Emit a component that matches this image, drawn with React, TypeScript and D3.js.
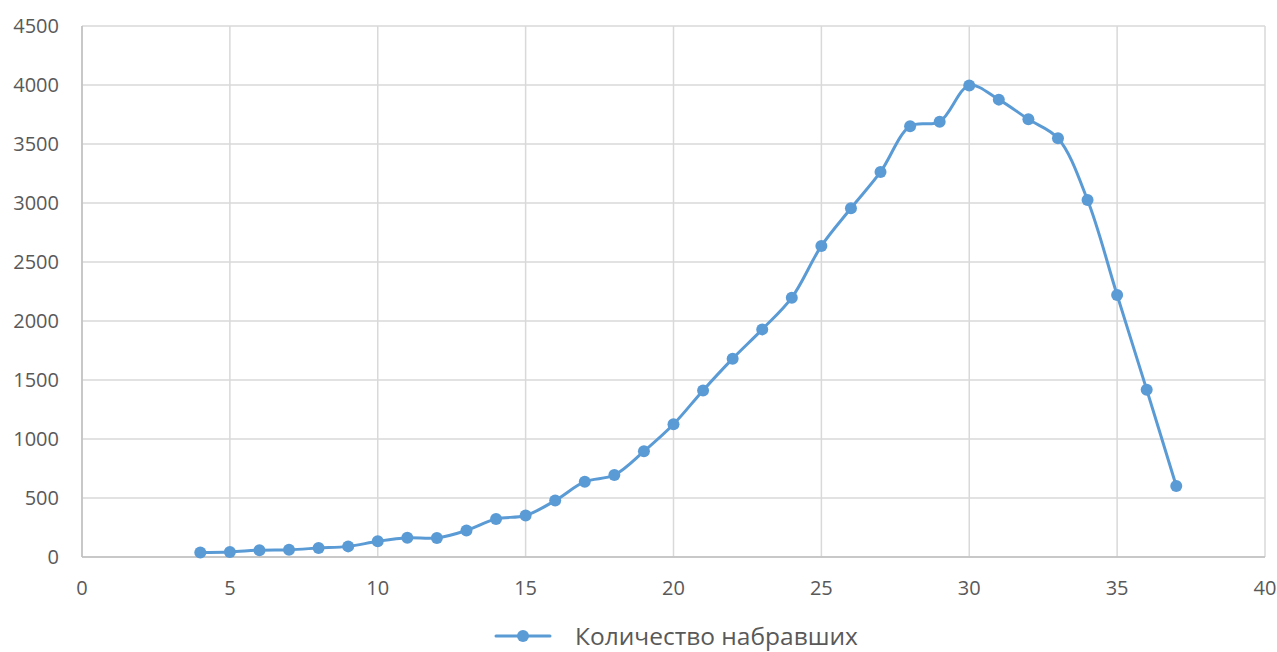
import React from "react";
import * as d3 from "d3";

const xValues = [4, 5, 6, 7, 8, 9, 10, 11, 12, 13, 14, 15, 16, 17, 18, 19, 20, 21, 22, 23, 24, 25, 26, 27, 28, 29, 30, 31, 32, 33, 34, 35, 36, 37];
const yValues = [38, 42, 58, 62, 76, 90, 133, 163, 162, 225, 323, 352, 478, 638, 695, 896, 1125, 1412, 1681, 1929, 2198, 2636, 2955, 3263, 3650, 3689, 3995, 3876, 3709, 3548, 3025, 2220, 1418, 602];
const xTicks = [0, 5, 10, 15, 20, 25, 30, 35, 40];
const yTicks = [0, 500, 1000, 1500, 2000, 2500, 3000, 3500, 4000, 4500];
const seriesName = "Количество набравших";

const W = 1277, H = 652;
const left = 82, right = 1265, top = 26, bottom = 557;
const color = "#5B9BD5";
const font = "'Open Sans', 'Noto Sans', sans-serif";

export default function App() {
  const x = d3.scaleLinear().domain([0, 40]).range([left, right]);
  const y = d3.scaleLinear().domain([0, 4500]).range([bottom, top]);
  const pts: [number, number][] = xValues.map((v, i) => [x(v), y(yValues[i])]);
  const line = d3.line().curve(d3.curveCatmullRom.alpha(0.5))(pts) || "";
  return (
    <svg width={W} height={H} style={{ position: "fixed", left: 0, top: 0, background: "#fff" }} fontFamily={font}>
      <rect x={0} y={0} width={W} height={H} fill="#fff" />
      {yTicks.map((t) => (
        <line key={"gy" + t} x1={left} x2={right} y1={y(t)} y2={y(t)} stroke="#d9d9d9" strokeWidth={1.5} />
      ))}
      {xTicks.map((t) => (
        <line key={"gx" + t} x1={x(t)} x2={x(t)} y1={top} y2={bottom} stroke="#d9d9d9" strokeWidth={1.5} />
      ))}
      <line x1={left} x2={right} y1={bottom} y2={bottom} stroke="#bfbfbf" strokeWidth={1.5} />
      <line x1={left} x2={left} y1={top} y2={bottom} stroke="#bfbfbf" strokeWidth={1.5} />
      {yTicks.map((t) => (
        <text key={"ty" + t} x={59} y={y(t)} dy="0.36em" textAnchor="end" fontSize={20} fill="#595959">{t}</text>
      ))}
      {xTicks.map((t) => (
        <text key={"tx" + t} x={x(t)} y={588} dy="0.36em" textAnchor="middle" fontSize={20} fill="#595959">{t}</text>
      ))}
      <path d={line} fill="none" stroke={color} strokeWidth={3} strokeLinejoin="round" strokeLinecap="round" />
      {pts.map((p, i) => (
        <circle key={"c" + i} cx={p[0]} cy={p[1]} r={6} fill={color} />
      ))}
      <line x1={496} x2={550} y1={636} y2={636} stroke={color} strokeWidth={3} strokeLinecap="round" />
      <circle cx={523} cy={636} r={6} fill={color} />
      <text x={575} y={636} dy="0.36em" fontSize={24.5} fill="#595959">{seriesName}</text>
    </svg>
  );
}
